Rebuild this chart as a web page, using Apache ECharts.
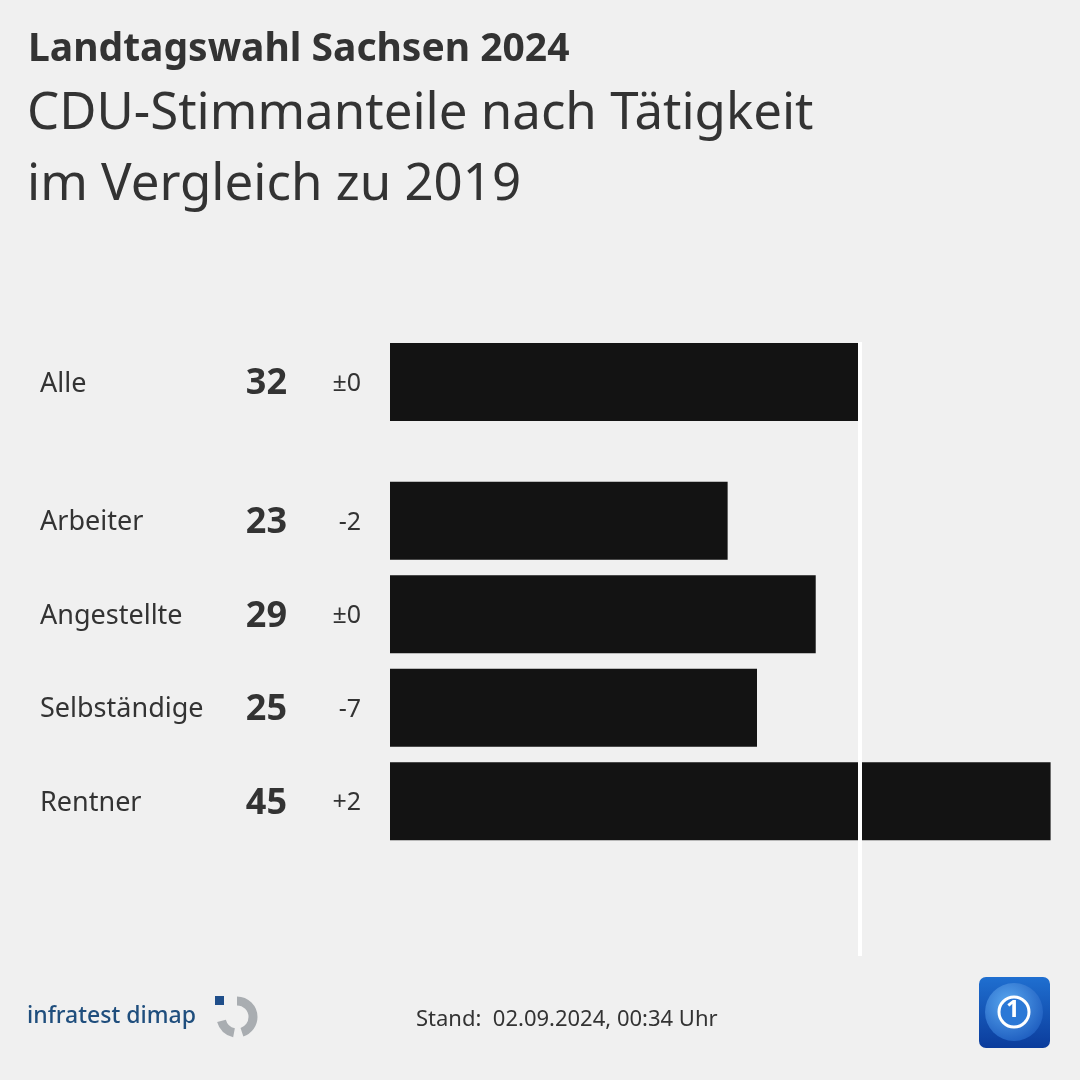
<!DOCTYPE html>
<html>
<head>
<meta charset="utf-8">
<script src="https://cdn.jsdelivr.net/npm/echarts@6/dist/echarts.min.js"></script>
<style>
html,body{margin:0;padding:0;background:#f0f0f0;}
#c{width:1080px;height:1080px;}
</style>
</head>
<body>
<div id="c"></div>
<script>
// ---- data ----
const titleText = 'Landtagswahl Sachsen 2024';
const subtitleText = 'CDU-Stimmanteile nach Tätigkeit\nim Vergleich zu 2019';
const allCategory = ['Alle'];
const allValues = [32];
const allChanges = ['±0'];
const groupCategories = ['Arbeiter', 'Angestellte', 'Selbständige', 'Rentner'];
const groupValues = [23, 29, 25, 45];
const groupChanges = ['-2', '±0', '-7', '+2'];
const referenceValue = allValues[0];
const standText = 'Stand:  02.09.2024, 00:34 Uhr';
const sourceText = 'infratest dimap';

const FONT = '"Noto Sans", sans-serif';
const TXT = '#333333';
const BAR = '#131313';
const XMAX = 46;

function labelRich() {
  return {
    n: { width: 170, fontSize: 27, color: TXT, fontFamily: FONT, align: 'left', padding: [4, 0, 0, 0] },
    v: { width: 77, fontSize: 36, fontWeight: 'bold', color: TXT, fontFamily: FONT, align: 'right', padding: [4, 0, 0, 0] },
    d: { width: 74, fontSize: 25, color: TXT, fontFamily: FONT, align: 'right', padding: [4, 0, 0, 0] }
  };
}
function makeFormatter(cats, vals, chs) {
  return function (val) {
    const i = cats.indexOf(val);
    return '{n|' + val + '}{v|' + vals[i] + '}{d|' + chs[i] + '}';
  };
}

const gridLeft = 390, gridRight = 1080 - 390 - 14.68 * XMAX;

const chart = echarts.init(document.getElementById('c'), null, { renderer: 'canvas' });
chart.setOption({
  backgroundColor: '#f0f0f0',
  animation: false,
  title: [
    { text: titleText, left: 23, top: 25,
      textStyle: { fontFamily: FONT, fontSize: 39, fontWeight: 'bold', color: TXT } },
    { text: subtitleText, left: 22, top: 74,
      textStyle: { fontFamily: FONT, fontSize: 51, fontWeight: 'normal', color: TXT, lineHeight: 71 } },
    { text: standText, left: 411, top: 1004,
      textStyle: { fontFamily: FONT, fontSize: 22, fontWeight: 'normal', color: TXT } },
    { text: sourceText, left: 22, top: 1000,
      textStyle: { fontFamily: FONT, fontSize: 23, fontWeight: 500, color: '#1f4e7d' } }
  ],
  grid: [
    { left: gridLeft, right: gridRight, top: 335, height: 94 },
    { left: gridLeft, right: gridRight, top: 474, height: 374 },
    { left: gridLeft, right: gridRight, top: 342, height: 614 }
  ],
  xAxis: [0, 1, 2].map(i => ({
    type: 'value', gridIndex: i, min: 0, max: XMAX, show: false
  })),
  yAxis: [
    { type: 'category', gridIndex: 0, data: allCategory, inverse: true,
      axisLine: { show: false }, axisTick: { show: false },
      axisLabel: { align: 'left', margin: 350, formatter: makeFormatter(allCategory, allValues, allChanges), rich: labelRich() } },
    { type: 'category', gridIndex: 1, data: groupCategories, inverse: true,
      axisLine: { show: false }, axisTick: { show: false },
      axisLabel: { align: 'left', margin: 350, formatter: makeFormatter(groupCategories, groupValues, groupChanges), rich: labelRich() } },
    { type: 'value', gridIndex: 2, min: 0, max: 1, show: false }
  ],
  series: [
    { type: 'bar', xAxisIndex: 0, yAxisIndex: 0, data: allValues, barWidth: 78,
      itemStyle: { color: BAR }, silent: true },
    { type: 'bar', xAxisIndex: 1, yAxisIndex: 1, data: groupValues, barWidth: 78,
      itemStyle: { color: BAR }, silent: true },
    { type: 'scatter', xAxisIndex: 2, yAxisIndex: 2, data: [], z: 10,
      markLine: { silent: true, symbol: 'none', label: { show: false },
        lineStyle: { color: '#ffffff', width: 4, type: 'solid' },
        data: [{ xAxis: referenceValue }] } }
  ],
  graphic: [
    // infratest dimap logo
    { type: 'rect', shape: { x: 215, y: 996, width: 9, height: 9 }, style: { fill: '#1f4e8a' } },
    { type: 'arc', shape: { cx: 237, cy: 1017, r: 16, startAngle: -Math.PI / 2, endAngle: Math.PI * 0.40 },
      style: { stroke: '#a9adb1', lineWidth: 9, fill: null } },
    { type: 'arc', shape: { cx: 237, cy: 1017, r: 16, startAngle: Math.PI * 0.56, endAngle: Math.PI * 0.92 },
      style: { stroke: '#a9adb1', lineWidth: 9, fill: null } },
    // tagesschau logo
    { type: 'rect', shape: { x: 979, y: 977, width: 71, height: 71, r: 7 },
      style: { fill: new echarts.graphic.LinearGradient(0, 0, 0, 1, [
        { offset: 0, color: '#1f6fd0' }, { offset: 1, color: '#0b3c9c' }]) } },
    { type: 'circle', shape: { cx: 1014, cy: 1012, r: 29 },
      style: { fill: new echarts.graphic.RadialGradient(0.4, 0.35, 0.8, [
        { offset: 0, color: '#5aa8f0' }, { offset: 1, color: '#1552b8' }]) } },
    { type: 'circle', shape: { cx: 1014, cy: 1012, r: 15 },
      style: { fill: '#2b78d6', stroke: '#ffffff', lineWidth: 3 } },
    { type: 'text', left: 1006, top: 998,
      style: { text: '1', fill: '#ffffff', font: 'bold 24px "Noto Sans", sans-serif' } }
  ]
});
</script>
</body>
</html>
